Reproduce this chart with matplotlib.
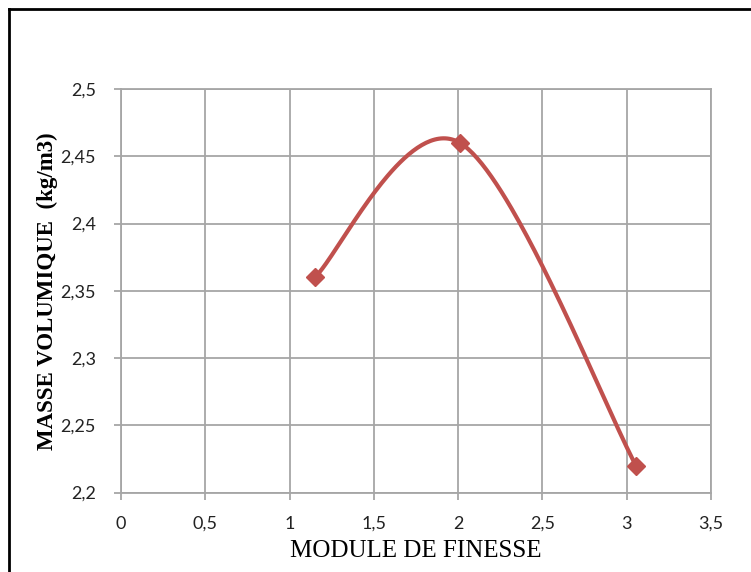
import numpy as np
import matplotlib
matplotlib.use("Agg")
import matplotlib.pyplot as plt
from matplotlib.lines import Line2D
from matplotlib.ticker import FixedLocator, FuncFormatter

# Data
module_finesse = [1.15, 2.01, 3.055]
masse_volumique = [2.36, 2.46, 2.22]
x_ticks = [0, 0.5, 1, 1.5, 2, 2.5, 3, 3.5]
y_ticks = [2.2, 2.25, 2.3, 2.35, 2.4, 2.45, 2.5]
x_label = "MODULE DE FINESSE"
y_label = "MASSE VOLUMIQUE  (kg/m3)"

W, H = 751, 572
fig = plt.figure(figsize=(W / 100, H / 100), dpi=100)
ax = fig.add_axes([121 / W, 1 - 492.5 / H, (711 - 121) / W, (492.5 - 89) / H])
ax.set_xlim(0, 3.5)
ax.set_ylim(2.2, 2.5)

grid_c = "#a6a6a6"
for s in ax.spines.values():
    s.set_color(grid_c)
    s.set_linewidth(1.3)
ax.xaxis.set_major_locator(FixedLocator(x_ticks))
ax.yaxis.set_major_locator(FixedLocator(y_ticks))
fmt = FuncFormatter(lambda v, p: ("%g" % round(v, 3)).replace(".", ","))
ax.xaxis.set_major_formatter(fmt)
ax.yaxis.set_major_formatter(fmt)
ax.grid(True, color=grid_c, linewidth=1.3)
ax.set_axisbelow(True)
ax.tick_params(axis="both", direction="out", length=5, width=1.3, color=grid_c,
               labelsize=13, labelcolor="#222222")
ax.tick_params(axis="x", pad=12)
ax.tick_params(axis="y", pad=13)
for lab in ax.get_xticklabels() + ax.get_yticklabels():
    lab.set_fontfamily("Lato")

# Excel-like smoothed curve (Bezier with 1/6 tangents) computed in pixel space
axw = (711 - 121)
axh = (492.5 - 89)
sx = axw / 3.5
sy = axh / 0.3
px = np.array(module_finesse) * sx
py = np.array(masse_volumique) * sy
pts = np.column_stack([px, py])
n = len(pts)
curve = []
for i in range(n - 1):
    p0 = pts[i]
    p1 = pts[i + 1]
    pm = pts[i - 1] if i > 0 else pts[i]
    pp = pts[i + 2] if i + 2 < n else pts[i + 1]
    c1 = p0 + (p1 - pm) / 6.0
    c2 = p1 - (pp - p0) / 6.0
    t = np.linspace(0, 1, 80)[:, None]
    b = ((1 - t) ** 3) * p0 + 3 * ((1 - t) ** 2) * t * c1 + 3 * (1 - t) * t ** 2 * c2 + t ** 3 * p1
    curve.append(b if i == 0 else b[1:])
curve = np.vstack(curve)
red = "#C0504D"
ax.plot(curve[:, 0] / sx, curve[:, 1] / sy, color=red, linewidth=3,
        solid_capstyle="round", zorder=3)
ax.plot(module_finesse, masse_volumique, linestyle="none", marker="D",
        markersize=9, color=red, zorder=4, clip_on=False)

ax.set_xlabel(x_label, fontfamily="Liberation Serif", fontsize=18, labelpad=6)
ax.set_ylabel(y_label, fontfamily="Liberation Serif", fontsize=16.5,
              fontweight="bold", labelpad=1.5)

# Outer border (left and top visible)
fig.add_artist(Line2D([9 / W, 9 / W], [0, 1 - 8.5 / H], transform=fig.transFigure,
                      color="black", linewidth=2, solid_capstyle="projecting"))
fig.add_artist(Line2D([9 / W, 1], [1 - 8.5 / H, 1 - 8.5 / H], transform=fig.transFigure,
                      color="black", linewidth=2, solid_capstyle="projecting"))

fig.savefig("out.png", dpi=100)
